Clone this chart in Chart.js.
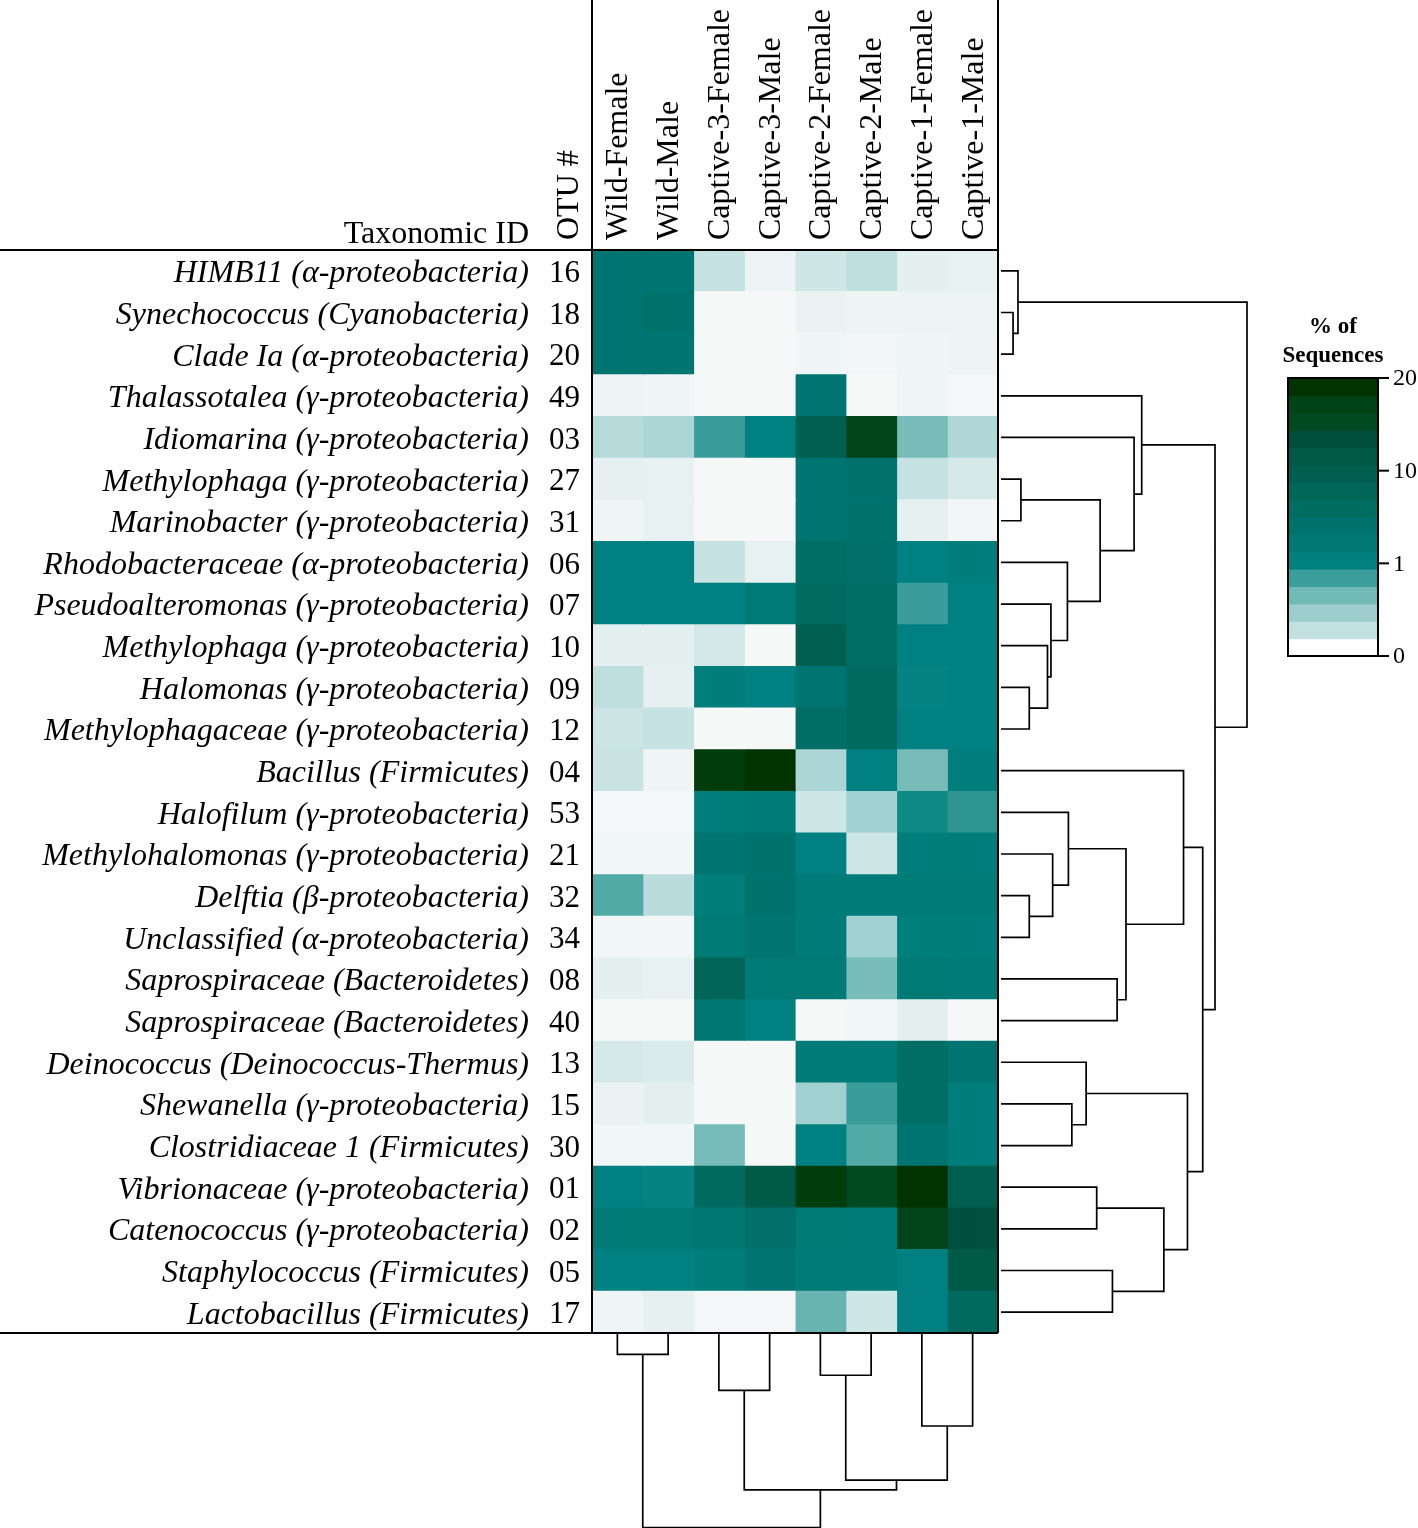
<!DOCTYPE html>
<html>
<head>
<meta charset="utf-8">
<script src="https://cdn.jsdelivr.net/npm/chart.js@4.4.1/dist/chart.umd.min.js"></script>
<style>
  html, body { margin: 0; padding: 0; background: #fff; }
  #wrap { width: 1418px; height: 1528px; }
</style>
</head>
<body>
<div id="wrap"><canvas id="heatmap" width="1418" height="1528"></canvas></div>
<script>
// rows of the heatmap, top to bottom
const taxa = [
	"HIMB11 (\u03b1-proteobacteria)", "Synechococcus (Cyanobacteria)", "Clade Ia (\u03b1-proteobacteria)",
	"Thalassotalea (\u03b3-proteobacteria)", "Idiomarina (\u03b3-proteobacteria)", "Methylophaga (\u03b3-proteobacteria)",
	"Marinobacter (\u03b3-proteobacteria)", "Rhodobacteraceae (\u03b1-proteobacteria)", "Pseudoalteromonas (\u03b3-proteobacteria)",
	"Methylophaga (\u03b3-proteobacteria)", "Halomonas (\u03b3-proteobacteria)", "Methylophagaceae (\u03b3-proteobacteria)",
	"Bacillus (Firmicutes)", "Halofilum (\u03b3-proteobacteria)", "Methylohalomonas (\u03b3-proteobacteria)",
	"Delftia (\u03b2-proteobacteria)", "Unclassified (\u03b1-proteobacteria)", "Saprospiraceae (Bacteroidetes)",
	"Saprospiraceae (Bacteroidetes)", "Deinococcus (Deinococcus-Thermus)", "Shewanella (\u03b3-proteobacteria)",
	"Clostridiaceae 1 (Firmicutes)", "Vibrionaceae (\u03b3-proteobacteria)", "Catenococcus (\u03b3-proteobacteria)",
	"Staphylococcus (Firmicutes)", "Lactobacillus (Firmicutes)"
];
const otuIds = ["16", "18", "20", "49", "03", "27", "31", "06", "07", "10", "09", "12", "04",
	"53", "21", "32", "34", "08", "40", "13", "15", "30", "01", "02", "05", "17"];

const samples = ["Wild-Female", "Wild-Male", "Captive-3-Female", "Captive-3-Male",
	"Captive-2-Female", "Captive-2-Male", "Captive-1-Female", "Captive-1-Male"];

// % of sequences, one array per sample, same row order as taxa
const wildFemale    = [5, 5, 5, 0.08, 0.45, 0.13, 0.06, 2, 2, 0.14, 0.4, 0.32, 0.34, 0.02, 0.04, 0.85, 0.04, 0.14, 0, 0.25, 0.1, 0.04, 2, 3.5, 2, 0.06];
const wildMale      = [5, 5.5, 5, 0.05, 0.5, 0.12, 0.12, 2, 2, 0.14, 0.13, 0.35, 0.06, 0.02, 0.04, 0.42, 0.03, 0.12, 0, 0.22, 0.14, 0.04, 1.8, 3.5, 2, 0.13];
const captive3Fem   = [0.35, 0, 0, 0, 0.95, 0, 0, 0.35, 2, 0.27, 2.5, 0, 19, 2.5, 5, 2.5, 3.5, 9, 4.5, 0, 0, 0.72, 8, 4, 2.5, 0.02];
const captive3Male  = [0.08, 0, 0, 0, 2, 0, 0, 0.12, 3, 0, 2, 0, 20, 3, 5.5, 5.5, 5, 3.5, 2, 0, 0, 0, 12, 6, 5, 0.02];
const captive2Fem   = [0.3, 0.1, 0.05, 5, 10, 5, 5, 7, 7.5, 10, 5, 7, 0.5, 0.3, 2, 3, 3, 3.5, 0, 3, 0.55, 2, 19, 3.5, 3, 0.78];
const captive2Male  = [0.4, 0.07, 0.03, 0, 18, 5.5, 5.5, 6, 7, 7, 8, 8, 2, 0.55, 0.3, 3, 0.55, 0.72, 0.04, 3, 0.95, 0.85, 16, 3, 3, 0.3];
const captive1Fem   = [0.14, 0.08, 0.05, 0.05, 0.72, 0.35, 0.13, 2, 0.95, 2, 1.8, 2, 0.72, 1.3, 2.5, 3, 2.5, 3.5, 0.15, 7, 7, 5, 20, 18, 2, 2];
const captive1Male  = [0.12, 0.08, 0.07, 0.02, 0.48, 0.25, 0.03, 2.5, 2, 2, 2, 2, 2.5, 1.05, 2.5, 3, 2.5, 3, 0, 5, 2.5, 2.5, 10, 14, 12, 8];
const sampleValues = [wildFemale, wildMale, captive3Fem, captive3Male, captive2Fem, captive2Male, captive1Fem, captive1Male];

// hierarchical clustering of rows (hclust style: -n = leaf n, k = k-th merge)
const rowMerge = [[-2, -3], [-1, 1], [-6, -7], [-11, -12], [-10, 4], [-9, 5], [-8, 6], [3, 7], [-5, 8], [-4, 9],
	[-16, -17], [-15, 11], [-14, 12], [-18, -19], [13, 14], [-13, 15], [-21, -22], [-20, 17], [-23, -24],
	[-25, -26], [19, 20], [18, 21], [16, 22], [10, 23], [2, 24]];
const rowHeights = [0.49, 0.69, 0.81, 1.15, 1.89, 2.03, 2.70, 4.03, 5.41, 5.72,
	1.15, 2.10, 2.74, 4.72, 5.08, 7.42, 2.88, 3.46, 3.89,
	4.53, 6.62, 7.58, 8.20, 8.70, 10.0];

// clustering of samples
const colMerge = [[-1, -2], [-5, -6], [-3, -4], [-7, -8], [2, 4], [3, 5], [1, 6]];
const colHeights = [1.05, 2.13, 2.91, 4.75, 7.54, 8.05, 10.0];

// colour bar tick labels
const scaleTicks = [0, 1, 10, 20];

// colour ramp
const stopValues = [0, 0.1, 0.2, 0.3, 0.4, 0.5, 0.6, 0.75, 0.9, 1.0, 1.3, 2, 3, 4, 5, 6, 7, 8, 10, 12, 14, 16, 18, 20];
const stopColors = ['#f6f8f8', '#eaf2f2', '#dcecec', '#cfe6e6', '#bfdede', '#acd5d5', '#94cac8', '#70b9b5',
	'#42a29e', '#339894', '#108a86', '#008080', '#007c78', '#007872', '#007470', '#007068', '#006e64',
	'#006a5e', '#006050', '#005a48', '#005040', '#004a22', '#004418', '#003300'];

function hexRgb(h) {
	return [parseInt(h.slice(1, 3), 16), parseInt(h.slice(3, 5), 16), parseInt(h.slice(5, 7), 16)];
}

function colorFor(v) {
	if (v <= stopValues[0]) return stopColors[0];
	for (let i = 1; i < stopValues.length; i++) {
		if (v <= stopValues[i]) {
			const f = (v - stopValues[i - 1]) / (stopValues[i] - stopValues[i - 1]);
			const a = hexRgb(stopColors[i - 1]), b = hexRgb(stopColors[i]);
			const c = a.map((x, k) => Math.round(x + (b[k] - x) * f));
			return 'rgb(' + c.join(',') + ')';
		}
	}
	return stopColors[stopColors.length - 1];
}

// piecewise position on the colour bar: 0-1, 1-10, 10-20 each take a third
function barPos(v) {
	if (v <= 1) return v / 3;
	if (v <= 10) return (1 + (v - 1) / 9) / 3;
	return (2 + (v - 10) / 10) / 3;
}
function barValue(t) {
	t = t * 3;
	if (t <= 1) return t;
	if (t <= 2) return 1 + (t - 1) * 9;
	return 10 + (t - 2) * 10;
}

const serif = "'Liberation Serif', 'Times New Roman', serif";

function drawTree(ctx, merge, heights, leafPx, heightPx, base, horizontal) {
	const pos = [], ht = [];
	const at = (c) => c < 0 ? [leafPx(-c - 1), base] : [pos[c - 1], ht[c - 1]];
	ctx.beginPath();
	merge.forEach((m, k) => {
		const l = at(m[0]), r = at(m[1]);
		const h = heightPx(heights[k]);
		pos[k] = (l[0] + r[0]) / 2;
		ht[k] = h;
		if (horizontal) {
			ctx.moveTo(l[1], l[0]); ctx.lineTo(h, l[0]); ctx.lineTo(h, r[0]); ctx.lineTo(r[1], r[0]);
		} else {
			ctx.moveTo(l[0], l[1]); ctx.lineTo(l[0], h); ctx.lineTo(r[0], h); ctx.lineTo(r[0], r[1]);
		}
	});
	ctx.stroke();
}

const decorations = {
	id: 'decorations',
	afterDraw(chart) {
		const ctx = chart.ctx;
		const area = chart.chartArea;
		const yScale = chart.scales.yName;
		const xTop = chart.scales.xTop;
		ctx.save();
		ctx.strokeStyle = '#000';
		ctx.lineJoin = 'miter';

		// frame lines
		ctx.lineWidth = 2;
		ctx.beginPath();
		ctx.moveTo(0, area.top); ctx.lineTo(area.right, area.top);
		ctx.moveTo(0, area.bottom); ctx.lineTo(area.right, area.bottom);
		ctx.moveTo(area.left, 0); ctx.lineTo(area.left, area.bottom);
		ctx.moveTo(area.right, 0); ctx.lineTo(area.right, area.bottom);
		ctx.stroke();

		// dendrograms
		ctx.lineWidth = 1.7;
		const rowBase = area.right + 3;
		drawTree(ctx, rowMerge, rowHeights, i => yScale.getPixelForValue(i), h => rowBase + h * 24.6, rowBase, true);
		const colBase = area.bottom + 1;
		drawTree(ctx, colMerge, colHeights, j => xTop.getPixelForValue(j), h => colBase + h * 19.37, colBase, false);

		// header texts
		ctx.fillStyle = '#000';
		ctx.font = '32px ' + serif;
		ctx.textAlign = 'right';
		ctx.textBaseline = 'alphabetic';
		ctx.fillText('Taxonomic ID', area.left - 63, area.top - 7);
		ctx.save();
		ctx.translate(area.left - 22, area.top - 10);
		ctx.rotate(-Math.PI / 2);
		ctx.textAlign = 'left';
		ctx.textBaseline = 'middle';
		ctx.fillText('OTU #', 0, 0);
		ctx.restore();

		// colour bar
		const bx = 1288, bw = 90, by = 378, bh = 278;
		const bands = 16;
		for (let k = 0; k < bands; k++) {
			const y0 = by + bh - (k + 1) * bh / bands;
			ctx.fillStyle = k === 0 ? '#ffffff' : colorFor(barValue((k + 1) / bands));
			ctx.fillRect(bx, y0 - 0.5, bw, bh / bands + 1);
		}
		ctx.lineWidth = 2;
		ctx.strokeRect(bx, by, bw, bh);
		ctx.fillStyle = '#000';
		ctx.font = '24px ' + serif;
		ctx.textAlign = 'left';
		ctx.textBaseline = 'middle';
		scaleTicks.forEach(v => {
			const y = by + bh - barPos(v) * bh;
			ctx.beginPath();
			ctx.moveTo(bx + bw, y); ctx.lineTo(bx + bw + 11, y);
			ctx.stroke();
			ctx.fillText(String(v), bx + bw + 15, y + 1);
		});
		ctx.font = 'bold 23px ' + serif;
		ctx.textAlign = 'center';
		ctx.textBaseline = 'alphabetic';
		ctx.fillText('% of', bx + bw / 2, 333);
		ctx.fillText('Sequences', bx + bw / 2, 362);
		ctx.restore();
	}
};

const datasets = sampleValues.map((vals, j) => ({
	label: samples[j],
	data: vals.map(() => 1),
	backgroundColor: vals.map(colorFor),
	borderWidth: 0,
	inflateAmount: 0.6,
	barPercentage: 1,
	categoryPercentage: 1,
	xAxisID: 'x',
	yAxisID: 'yName'
}));

Chart.defaults.font.family = serif;
Chart.defaults.color = '#000';

new Chart(document.getElementById('heatmap'), {
	type: 'bar',
	data: { labels: taxa, datasets: datasets },
	plugins: [decorations],
	options: {
		indexAxis: 'y',
		responsive: false,
		animation: false,
		devicePixelRatio: 1,
		layout: { padding: { left: 0, top: 0, right: 420, bottom: 195 } },
		plugins: { legend: { display: false }, tooltip: { enabled: false } },
		scales: {
			x: { type: 'linear', stacked: true, min: 0, max: 8, display: false },
			xTop: {
				type: 'category', position: 'top', labels: samples, offset: true,
				grid: { display: false, drawTicks: false }, border: { display: false },
				ticks: { font: { size: 32 }, padding: 10, labelOffset: 40, minRotation: 90, maxRotation: 90, autoSkip: false },
				afterFit: s => { s.height = 250; }
			},
			yName: {
				type: 'category', position: 'left', weight: 2, stacked: true, offset: true,
				grid: { display: false, drawTicks: false }, border: { display: false },
				ticks: { font: { size: 32, style: 'italic' }, padding: 1, labelOffset: 3, autoSkip: false },
				afterFit: s => { s.width = 530; }
			},
			yOtu: {
				type: 'category', position: 'left', weight: 1, labels: otuIds, offset: true,
				grid: { display: false, drawTicks: false }, border: { display: false },
				ticks: { font: { size: 31 }, padding: 12, labelOffset: 3, autoSkip: false },
				afterFit: s => { s.width = 62; }
			}
		}
	}
});
</script>
</body>
</html>
